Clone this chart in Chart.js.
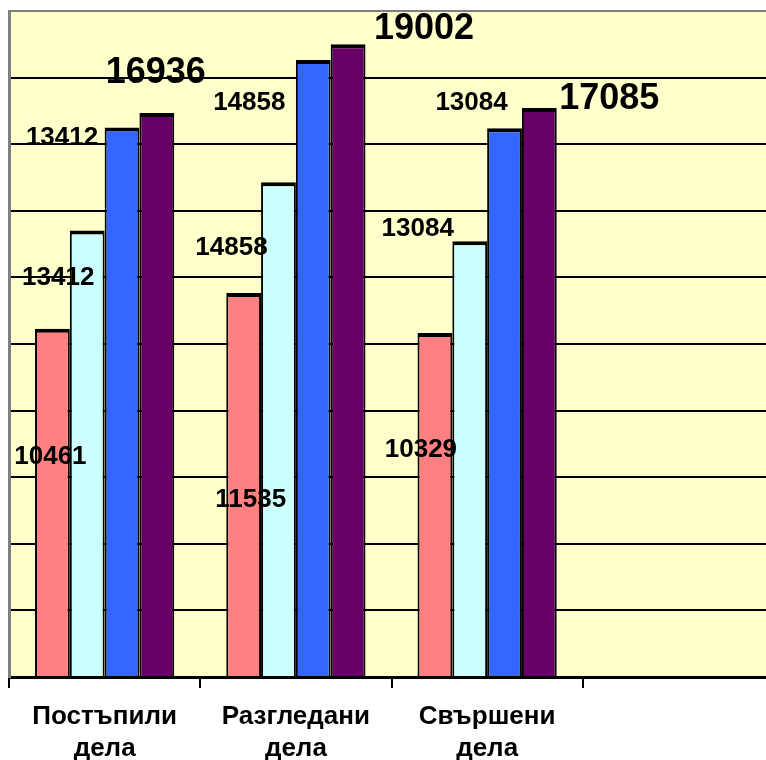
<!DOCTYPE html>
<html>
<head>
<meta charset="utf-8">
<script src="https://cdn.jsdelivr.net/npm/chart.js@4"></script>
<style>
  html, body { margin: 0; padding: 0; background: #fff; overflow: hidden; }
  #wrap { width: 774px; height: 760px; }
</style>
</head>
<body>
<div id="wrap"><canvas id="chart" width="774" height="760"></canvas></div>
<script>
// categories (the 4th slot is empty in the original picture)
const categories = [['Постъпили', 'дела'], ['Разгледани', 'дела'], ['Свършени', 'дела'], ''];

// bar values
const seriesA = [10461, 11535, 10329, null];
const seriesB = [13412, 14858, 13084, null];
const seriesC = [16500, 18530, 16480, null];
const seriesD = [16936, 19002, 17085, null];

// data label texts as printed in the picture
const labelsA = ['10461', '11535', '10329'];
const labelsB = ['13412', '14858', '13084'];
const labelsC = ['13412', '14858', '13084'];
const labelsD = ['16936', '19002', '17085'];

const yMax = 20000;
const yStep = 2000;

// label placement relative to the top centre of each bar
const labelOffsets = [
  [[-2, 128], [7, 207], [-14, 117]],
  [[-29, 47], [-47, 66], [-52, -12]],
  [[-60, 10], [-64, 43], [-33, -25]],
  [[-1, -40], [76, -15], [70, -9]]
];
const smallFont = 'bold 26px "Liberation Sans", Arial';
const bigFont = 'bold 36px "Liberation Sans", Arial';
const labelFonts = [smallFont, smallFont, smallFont, bigFont];

const plotBackground = {
  id: 'plotBackground',
  beforeDraw(chart) {
    const { ctx, chartArea: a } = chart;
    ctx.save();
    ctx.fillStyle = '#FFFFCC';
    ctx.fillRect(a.left, a.top, a.right - a.left, a.bottom - a.top);
    ctx.restore();
  }
};

const barLabels = {
  id: 'barLabels',
  afterDatasetsDraw(chart) {
    const ctx = chart.ctx;
    const texts = [labelsA, labelsB, labelsC, labelsD];
    ctx.save();
    ctx.fillStyle = '#000';
    ctx.textAlign = 'center';
    ctx.textBaseline = 'middle';
    texts.forEach((arr, i) => {
      const meta = chart.getDatasetMeta(i);
      ctx.font = labelFonts[i];
      arr.forEach((t, j) => {
        const el = meta.data[j];
        const off = labelOffsets[i][j];
        ctx.fillText(t, el.x + off[0], el.y + off[1]);
      });
    });
    ctx.restore();
  }
};

const border = { top: 4, left: 2, right: 2, bottom: 0 };

new Chart(document.getElementById('chart'), {
  type: 'bar',
  data: {
    labels: categories,
    datasets: [
      { data: seriesA, backgroundColor: '#FF8080', borderColor: '#000', borderWidth: border, borderSkipped: false },
      { data: seriesB, backgroundColor: '#CCFFFF', borderColor: '#000', borderWidth: border, borderSkipped: false },
      { data: seriesC, backgroundColor: '#3366FF', borderColor: '#000', borderWidth: border, borderSkipped: false },
      { data: seriesD, backgroundColor: '#660066', borderColor: '#000', borderWidth: border, borderSkipped: false }
    ]
  },
  options: {
    responsive: false,
    animation: false,
    categoryPercentage: 0.728,
    barPercentage: 1,
    layout: { padding: { left: 7, top: 11, right: 0, bottom: 0 } },
    plugins: {
      legend: { display: false },
      tooltip: { enabled: false }
    },
    scales: {
      x: {
        grid: {
          offset: true,
          drawOnChartArea: false,
          color: '#000',
          lineWidth: 2,
          tickLength: 11
        },
        border: { display: true, color: '#000', width: 3 },
        ticks: {
          color: '#000',
          padding: 12,
          maxRotation: 0,
          autoSkip: false,
          font: { family: '"Liberation Sans", Arial', size: 26, weight: 'bold', lineHeight: 1.26 }
        },
        afterFit(scale) { scale.height = 83; }
      },
      y: {
        min: 0,
        max: yMax,
        ticks: { display: false, stepSize: yStep },
        grid: {
          drawTicks: false,
          tickLength: 0,
          lineWidth: 2,
          color: (c) => (c.tick && c.tick.value === yMax ? '#808080' : '#000')
        },
        border: { display: true, color: '#808080', width: 3 },
        afterFit(scale) { scale.width = 2; }
      }
    }
  },
  plugins: [plotBackground, barLabels]
});
</script>
</body>
</html>
